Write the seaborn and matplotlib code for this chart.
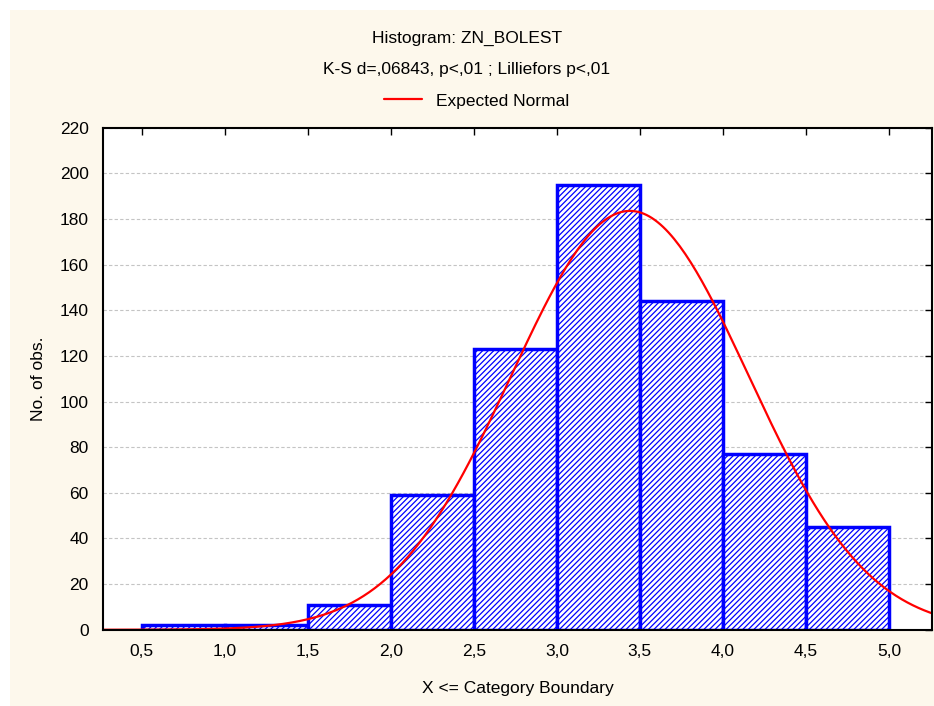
import numpy as np
import pandas as pd
import matplotlib
matplotlib.use("Agg")
import matplotlib.pyplot as plt
import seaborn as sns
from matplotlib.patches import Rectangle

bin_edges = [0.5, 1.0, 1.5, 2.0, 2.5, 3.0, 3.5, 4.0, 4.5, 5.0]
counts = [2, 2, 11, 59, 123, 195, 144, 77, 45]
tick_labels = ['0,5', '1,0', '1,5', '2,0', '2,5', '3,0', '3,5', '4,0', '4,5', '5,0']

# expected normal parameters (fitted)
mean_est = 3.44
sd_est = 0.715
n_obs = sum(counts)

centers = [(a + b) / 2 for a, b in zip(bin_edges[:-1], bin_edges[1:])]
df = pd.DataFrame({'x': centers, 'n': counts})

sns.set_style("white")
plt.rcParams['font.family'] = ['Liberation Sans', 'DejaVu Sans']
plt.rcParams['hatch.linewidth'] = 0.9
plt.rcParams['text.color'] = 'black'
plt.rcParams['axes.labelcolor'] = 'black'

fs = 12.5

fig = plt.figure(figsize=(9.34, 7.06), dpi=100, facecolor='white')
fig.patches.append(Rectangle((0.011, 0), 0.989, 0.986, transform=fig.transFigure,
                             facecolor='#fdf8ec', edgecolor='none', zorder=-10))
ax = fig.add_axes([0.110, 0.108, 0.888, 0.711])
ax.set_facecolor('white')

sns.histplot(data=df, x='x', weights='n', bins=bin_edges, ax=ax,
             color='white', edgecolor='#0000ff', linewidth=2.5, alpha=1)
for p in ax.patches:
    p.set_hatch('//////')
    p.set_zorder(3)

xlim = (0.265, 5.26)
xs = np.linspace(xlim[0], xlim[1], 300)
bw = bin_edges[1] - bin_edges[0]
ys = n_obs * bw / (sd_est * np.sqrt(2 * np.pi)) * np.exp(-0.5 * ((xs - mean_est) / sd_est) ** 2)
sns.lineplot(x=xs, y=ys, color='#ff0000', linewidth=1.6, ax=ax, label='Expected Normal', zorder=4)

ax.set_xlim(*xlim)
ax.set_ylim(0, 220)
ax.set_xticks(bin_edges)
ax.set_xticklabels(tick_labels)
ax.set_yticks(range(0, 221, 20))
ax.yaxis.grid(True, linestyle=(0, (3, 2)), color='#c4c4c4', linewidth=0.8)
ax.set_axisbelow(True)
ax.tick_params(axis='both', direction='in', length=5, width=1, labelsize=fs,
               top=True, right=True, pad=10, colors='black')
for s in ax.spines.values():
    s.set_linewidth(1.5)
    s.set_color('black')
    s.set_zorder(5)

ax.set_xlabel('X <= Category Boundary', fontsize=fs, labelpad=16)
ax.set_ylabel('No. of obs.', fontsize=fs, labelpad=10)

fig.text(0.5, 0.946, 'Histogram: ZN_BOLEST', ha='center', va='center', fontsize=fs)
fig.text(0.5, 0.901, 'K-S d=,06843, p<,01 ; Lilliefors p<,01', ha='center', va='center', fontsize=fs)
ax.legend(loc='center', bbox_to_anchor=(0.5, 1.0), bbox_transform=fig.transFigure,
          frameon=False, fontsize=fs, handlelength=2.2)
leg = ax.get_legend()
leg.set_bbox_to_anchor((0.51, 0.857), transform=fig.transFigure)

fig.savefig('out.png', dpi=100, facecolor=fig.get_facecolor())
